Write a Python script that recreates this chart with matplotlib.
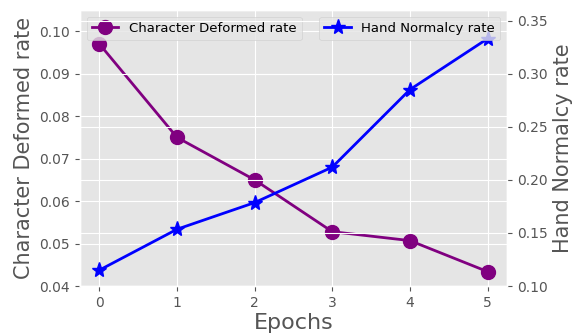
import numpy as np
import matplotlib
matplotlib.use("Agg")
from matplotlib import pyplot as plt

plt.style.use('ggplot')

epochs = [0, 1, 2, 3, 4, 5]
deformed = [0.0970, 0.0750, 0.0650, 0.0528, 0.0507, 0.0434]
normalcy = [0.115, 0.1535, 0.1786, 0.212, 0.285, 0.333]

fig = plt.figure(figsize=(5.77, 3.33), dpi=100)
ax = fig.add_axes([0.1386, 0.141, 0.74, 0.829])

ax.plot(epochs, deformed, color='purple', marker='o', markersize=10, linewidth=2,
        label='Character Deformed rate')
ax.set_ylim(0.04, 0.105)
ax.set_xticks(epochs)
ax.set_xlabel('Epochs', fontsize=16, labelpad=2)
ax.set_ylabel('Character Deformed rate', fontsize=15)
ax.legend(loc='upper left', fontsize=9.5)

ax2 = ax.twinx()
ax2.plot(epochs, normalcy, color='blue', marker='*', markersize=11, linewidth=2,
         label='Hand Normalcy rate')
ax2.set_ylim(0.10, 0.36)
ax2.set_ylabel('Hand Normalcy rate', fontsize=15)
ax2.legend(loc='upper right', fontsize=9.5)

fig.savefig('out.png', dpi=100)
